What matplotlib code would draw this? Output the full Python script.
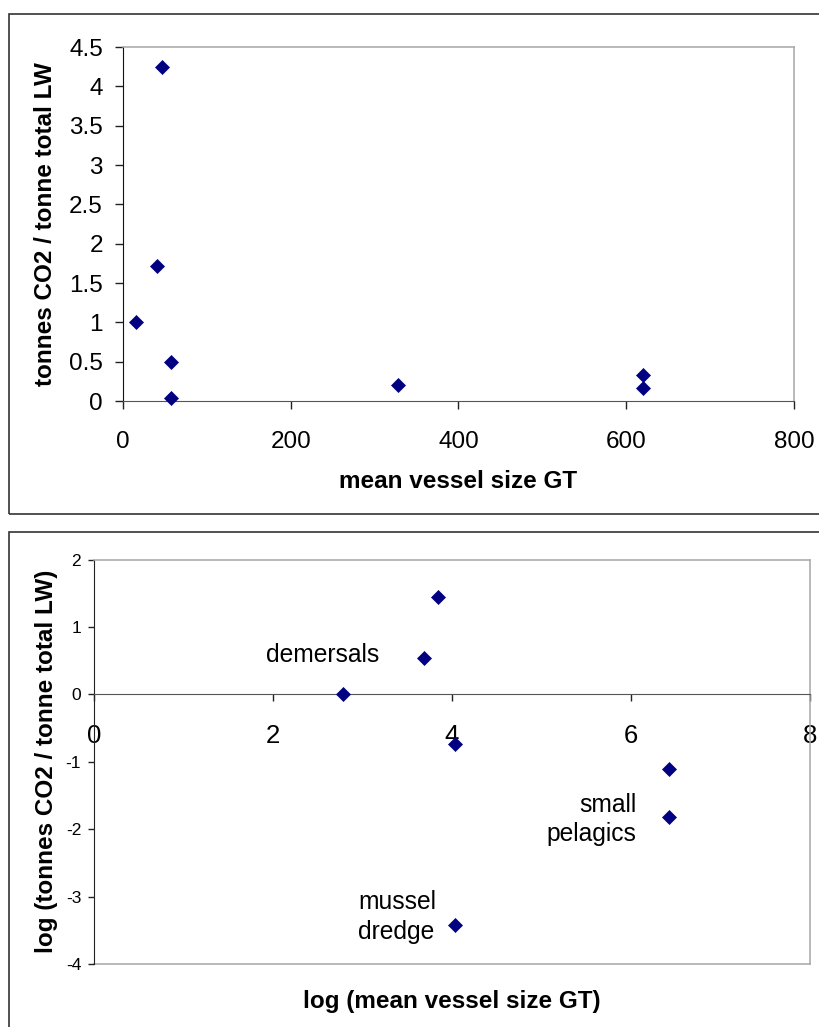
import numpy as np
import matplotlib
matplotlib.use('Agg')
import matplotlib.pyplot as plt
from matplotlib.patches import Rectangle
from matplotlib.ticker import FuncFormatter

plt.rcParams['font.family'] = ['Liberation Sans', 'DejaVu Sans']

# top chart: raw values
vessel_gt = [15, 47, 40, 57, 57, 328, 620, 620]
co2_per_tonne = [1.0, 4.25, 1.72, 0.5, 0.04, 0.2, 0.33, 0.17]

# bottom chart: log values
log_gt = [2.78, 3.84, 3.69, 4.04, 6.43, 6.43, 4.04]
log_co2 = [0.0, 1.45, 0.54, -0.73, -1.11, -1.82, -3.42]

# group labels (one entry per text line)
group_lines = ['demersals', 'small', 'pelagics', 'mussel', 'dredge']
group_x = [3.19, 6.06, 6.06, 2.95, 2.95]
group_y = [0.48, -1.74, -2.18, -3.18, -3.63]
group_ha = ['right', 'right', 'right', 'left', 'left']

W, H = 820, 1027
NAVY = '#000080'
FRAME = '#a6a6a6'
AXIS = '#555555'


def box(l, t, r, b):
	return [l / W, 1 - b / H, (r - l) / W, (b - t) / H]


fmt = FuncFormatter(lambda v, p: '{:g}'.format(v))

fig = plt.figure(figsize=(W / 100, H / 100), dpi=100)

# outer chart borders
fig.add_artist(Rectangle((9 / W, 1 - 514 / H), 830 / W, 500 / H, transform=fig.transFigure,
	fill=False, ec='#333333', lw=1.2))
fig.add_artist(Rectangle((9 / W, 1 - 1060 / H), 830 / W, 528 / H, transform=fig.transFigure,
	fill=False, ec='#333333', lw=1.2))

# ---- top chart
ax1 = fig.add_axes(box(123, 47, 794, 401))
ax1.plot(vessel_gt, co2_per_tonne, 'D', color=NAVY, markersize=7.4, mew=0.5, clip_on=False, zorder=5)
ax1.set_xlim(0, 800)
ax1.set_ylim(0, 4.5)
ax1.set_xticks(np.arange(0, 801, 200))
ax1.set_yticks(np.arange(0, 4.51, 0.5))
ax1.xaxis.set_major_formatter(fmt)
ax1.yaxis.set_major_formatter(fmt)
ax1.spines['top'].set_color(FRAME)
ax1.spines['right'].set_color(FRAME)
ax1.spines['top'].set_linewidth(1.1)
ax1.spines['right'].set_linewidth(1.1)
ax1.spines['left'].set_color('#111111')
ax1.spines['bottom'].set_color(AXIS)
ax1.tick_params(axis='x', length=5.8, width=1, color='#222222', pad=16, labelsize=17.5)
ax1.tick_params(axis='y', length=5.8, width=1, color='#222222', pad=8.6, labelsize=17.5)
ax1.set_xlabel('mean vessel size GT', fontsize=17.5, fontweight='bold', va='baseline')
ax1.xaxis.set_label_coords(0.5, (401 - 488) / 354)
ax1.set_ylabel('tonnes CO2 / tonne total LW', fontsize=17.5, fontweight='bold', va='center')
ax1.yaxis.set_label_coords((46 - 123) / 671, 0.5)

# ---- bottom chart
ax2 = fig.add_axes(box(94.1, 559.5, 809.6, 964))
ax2.plot(log_gt, log_co2, 'D', color=NAVY, markersize=7.4, mew=0.5, clip_on=False, zorder=5)
ax2.set_xlim(0, 8)
ax2.set_ylim(-4, 2)
ax2.set_xticks(np.arange(0, 9, 2))
ax2.set_yticks(np.arange(-4, 3, 1))
ax2.xaxis.set_major_formatter(fmt)
ax2.yaxis.set_major_formatter(fmt)
ax2.spines['bottom'].set_position(('data', 0))
ax2.spines['bottom'].set_color(AXIS)
ax2.spines['top'].set_color(FRAME)
ax2.spines['right'].set_color(FRAME)
ax2.spines['top'].set_linewidth(1.1)
ax2.spines['right'].set_linewidth(1.1)
ax2.spines['left'].set_color('#222222')
ax2.axhline(-4, color=FRAME, lw=1.1, clip_on=False, zorder=1)
ax2.tick_params(axis='x', length=5.2, width=1, color='#222222', pad=16, labelsize=18.5)
ax2.tick_params(axis='y', length=4.3, width=1, color='#222222', pad=5, labelsize=12.5)
ax2.set_xlabel('log (mean vessel size GT)', fontsize=17.5, fontweight='bold', va='baseline')
ax2.xaxis.set_label_coords(0.5, (964 - 1008.3) / 404.5)
ax2.set_ylabel('log (tonnes CO2 / tonne total LW)', fontsize=17.5, fontweight='bold', va='center')
ax2.yaxis.set_label_coords((46.5 - 94.1) / 715.5, 0.5)

for txt, x, y, ha in zip(group_lines, group_x, group_y, group_ha):
	ax2.text(x, y, txt, ha=ha, va='baseline', fontsize=17.7)

fig.savefig('out.png', dpi=100)
